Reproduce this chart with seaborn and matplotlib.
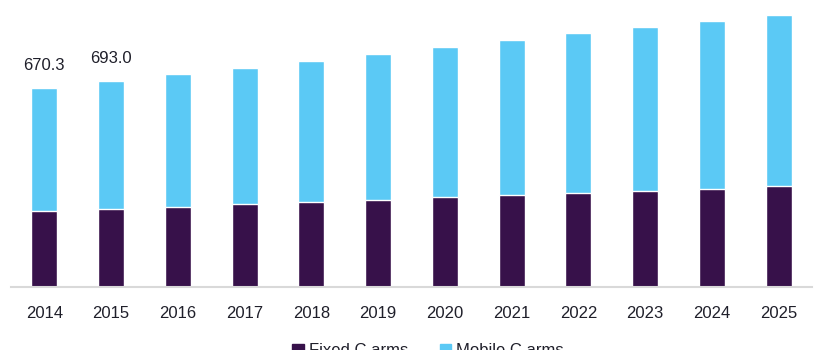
import pandas as pd
import matplotlib
matplotlib.use('Agg')
import matplotlib.pyplot as plt
import seaborn as sns
from matplotlib.patches import Patch

# --- data ---
years = ['2014', '2015', '2016', '2017', '2018', '2019',
         '2020', '2021', '2022', '2023', '2024', '2025']
fixed_c_arms = [256, 263, 270, 280, 286, 293, 303, 310, 317, 324, 330, 340]
mobile_c_arms = [414.3, 430.0, 447, 458, 475, 492, 505, 522, 538, 552, 566, 576]
label_years = ['2014', '2015']

FIXED_COLOR = '#37114a'
MOBILE_COLOR = '#5bc9f5'
TEXT_COLOR = '#1f1f2a'

sns.set_theme(style='white')
plt.rcParams['font.family'] = ['Liberation Sans', 'DejaVu Sans']

df = pd.DataFrame({'year': years, 'fixed': fixed_c_arms, 'mobile': mobile_c_arms})
df['total'] = df['fixed'] + df['mobile']

fig = plt.figure(figsize=(8.2, 3.5), dpi=100)
ax = fig.add_axes([11 / 820, 63 / 350, 801 / 820, 282 / 350])

# stacked look: total bar (mobile colour) with the fixed bar drawn over it
sns.barplot(data=df, x='year', y='total', color=MOBILE_COLOR, width=0.39,
            saturation=1, ax=ax)
sns.barplot(data=df, x='year', y='fixed', color=FIXED_COLOR, width=0.39,
            saturation=1, ax=ax)

# value labels for the first two years
for i, row in df.iterrows():
    if row['year'] in label_years:
        ax.annotate(f"{row['total']:.1f}", (i, row['total']),
                    xytext=(0, 11), textcoords='offset points',
                    ha='center', va='bottom', fontsize=12, color=TEXT_COLOR)

ax.set_xlim(-0.5, 11.5)
ax.set_ylim(0, 950)
ax.set_xlabel('')
ax.set_ylabel('')
ax.set_yticks([])
ax.tick_params(axis='x', length=0, pad=14, labelsize=12, labelcolor=TEXT_COLOR)
for side in ['top', 'right', 'left']:
    ax.spines[side].set_visible(False)
ax.spines['bottom'].set_color('#d9d9d9')
ax.spines['bottom'].set_linewidth(1.5)

handles = [Patch(color=FIXED_COLOR, label='Fixed C arms'),
           Patch(color=MOBILE_COLOR, label='Mobile C arms')]
fig.legend(handles=handles, loc='upper center', bbox_to_anchor=(0.522, 0.062),
           ncol=2, frameon=False, fontsize=12, handlelength=0.7,
           handleheight=0.7, handletextpad=0.3, columnspacing=1.9,
           labelcolor=TEXT_COLOR)

fig.savefig('out.png', dpi=100)
